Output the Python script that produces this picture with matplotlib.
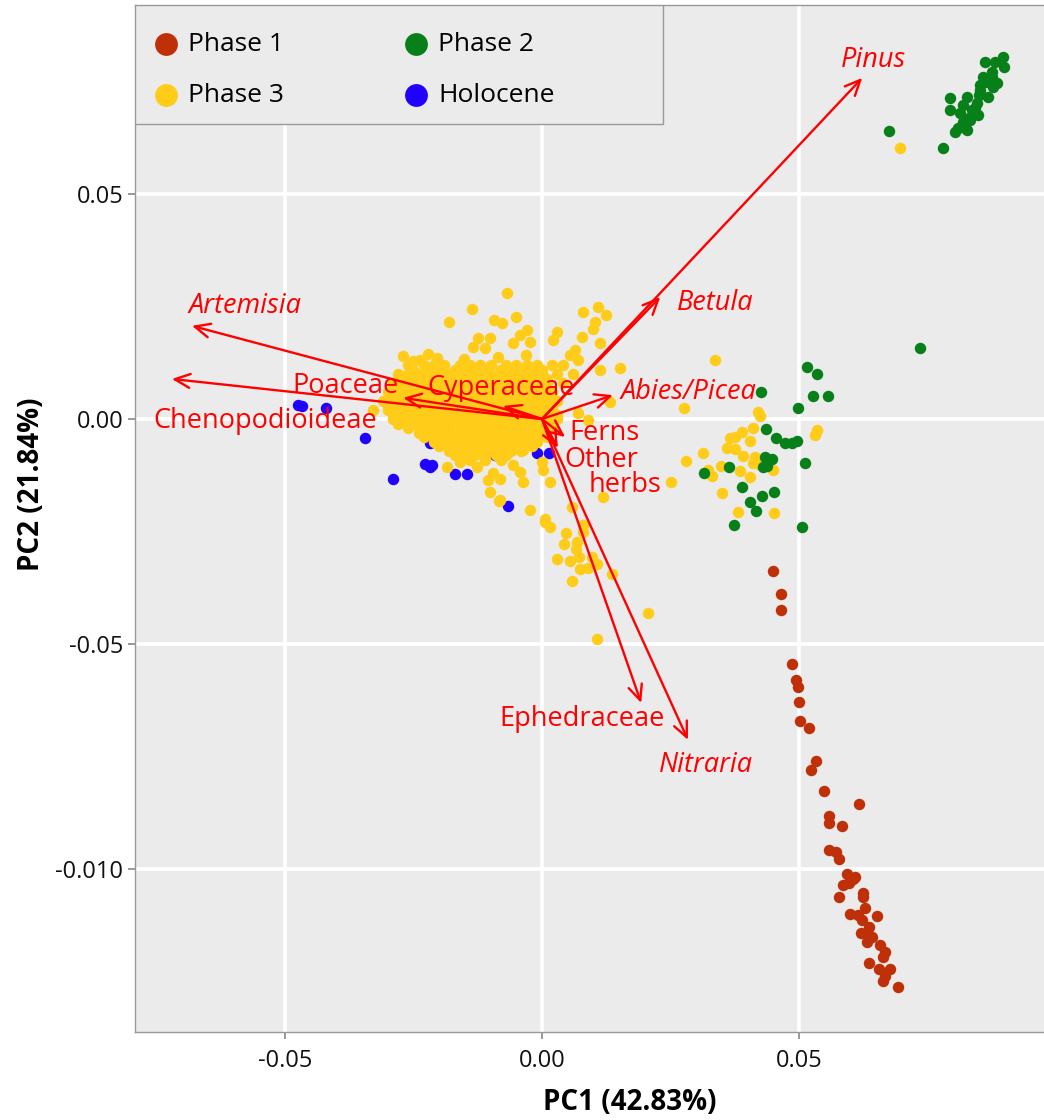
import numpy as np
import matplotlib.pyplot as plt
from matplotlib.patches import Rectangle

plt.rcParams['font.family'] = ['Open Sans', 'DejaVu Sans']

# scores, in thousandths of PC units (x, y)
phase1_pts = [(44.9, -33.8), (46.5, -38.9), (46.5, -42.4), (48.6, -54.4), (49.4, -58.0),
              (49.8, -59.6), (50.0, -62.9), (50.2, -67.1), (51.9, -68.7), (53.3, -76.0),
              (52.3, -78.0), (54.9, -82.7), (61.7, -85.6), (55.8, -88.2), (55.8, -89.8),
              (58.4, -90.4), (55.8, -95.8), (57.2, -96.2), (57.8, -97.8), (59.3, -101.1),
              (60.5, -102.2), (58.6, -103.6), (59.7, -103.1), (60.9, -101.8), (57.8, -106.2),
              (62.5, -105.3), (62.5, -106.2), (62.8, -108.7), (59.9, -110.0), (61.5, -110.2),
              (65.2, -110.4), (62.3, -111.3), (63.6, -112.9), (63.2, -114.2), (62.1, -114.2),
              (64.2, -115.1), (63.2, -116.2), (65.8, -116.9), (66.7, -118.4), (66.3, -119.6),
              (63.6, -120.9), (65.6, -122.2), (67.7, -122.2), (66.7, -123.8), (66.3, -124.9),
              (69.3, -126.2)]

phase2_pts = [(67.5, 64.0), (78.0, 60.2), (79.4, 71.3), (79.4, 68.7), (89.7, 80.4),
              (89.9, 78.2), (88.1, 79.3), (86.2, 79.3), (87.5, 76.0), (88.5, 74.7),
              (85.8, 76.0), (86.8, 71.6), (85.2, 73.1), (84.6, 70.2), (82.7, 71.6),
              (83.7, 68.7), (84.8, 67.6), (81.3, 68.0), (81.9, 66.0), (80.9, 64.7),
              (82.7, 64.2), (80.4, 63.8), (83.3, 66.4), (84.2, 69.1), (85.2, 74.2),
              (87.5, 77.1), (87.7, 73.8), (81.9, 69.8), (83.0, 67.0), (82.0, 65.0),
              (85.0, 72.0), (86.5, 75.0),
              (51.6, 11.6), (53.5, 10.0), (52.7, 5.1), (55.6, 5.1), (42.6, 6.0),
              (49.8, 2.4), (43.6, -2.2), (45.5, -4.2), (47.3, -5.3), (48.6, -5.3),
              (49.6, -4.9), (43.4, -8.4), (44.7, -8.9), (43.8, -10.4), (43.0, -10.7),
              (36.4, -10.7), (31.5, -12.0), (51.2, -9.8), (38.9, -15.1), (45.1, -16.2),
              (42.8, -17.1), (40.5, -18.4), (41.6, -20.4), (37.4, -23.6), (50.6, -24.0),
              (73.5, 15.8)]

holocene_pts = [(-47.5, 3.1), (-46.7, 2.9), (-42.0, 2.4), (-34.4, -4.2), (-29.0, -13.3),
                (-22.8, -10.0), (-21.8, -10.7), (-21.4, -10.2), (-21.8, -5.3), (-16.9, -12.2),
                (-14.6, -12.2), (-9.1, -8.0), (-6.6, -19.3), (-1.0, -7.6), (1.4, -7.6),
                (-6.8, -4.7)]

phase3_pts = [(-6.8, 28.0), (-13.6, 24.4), (-18.1, 21.6), (-9.3, 22.0), (-7.8, 21.3),
              (-5.1, 22.7), (10.9, 24.9), (8.0, 23.8), (12.5, 23.1), (10.3, 21.6),
              (9.9, 20.0), (-2.9, 19.8), (-4.3, 18.7), (2.9, 19.3), (2.1, 17.6),
              (7.8, 18.2), (11.3, 16.9), (-12.5, 18.0), (-10.1, 18.0), (-5.6, 16.9),
              (-2.3, 17.1), (-13.4, 16.0), (-11.1, 15.8), (6.4, 15.3), (5.4, 14.2),
              (7.0, 13.1), (15.2, 11.3), (11.3, 10.9), (-27.0, 14.0), (-22.2, 14.4),
              (-23.7, 13.1), (-32.9, 2.0), (13.2, 3.8), (7.0, 1.3), (8.9, -0.2),
              (-3.7, -6.9), (0.0, -9.6), (0.2, -11.3), (1.6, -14.0), (11.9, -17.3),
              (-10.5, -13.6), (-8.2, -13.3), (-3.7, -14.0), (-10.1, -16.2), (-8.2, -18.0),
              (-2.3, -20.2), (0.6, -22.2), (5.8, -19.6), (-18.5, -10.7), (-16.0, -9.6),
              (-12.6, -10.7), (-5.6, -10.2), (-4.3, -11.8), (-9.5, -12.0), (-8.4, -18.2),
              (1.6, -24.0), (0.6, -22.9), (8.0, -23.6), (8.0, -25.1), (4.7, -25.3),
              (4.3, -27.8), (6.8, -27.3), (6.6, -28.9), (7.2, -30.7), (2.9, -31.1),
              (5.4, -31.6), (7.4, -33.3), (9.7, -30.7), (10.7, -32.2), (8.9, -33.1),
              (13.6, -34.4), (5.8, -36.0), (20.6, -43.1), (10.7, -48.9),
              (33.7, 13.1), (27.6, 2.4), (42.0, 1.6), (42.4, 0.7), (41.0, -2.0),
              (38.9, -2.9), (36.6, -4.2), (37.5, -4.0), (40.5, -4.9), (36.0, -6.4),
              (37.5, -6.7), (31.3, -7.6), (28.0, -9.3), (39.1, -8.2), (41.4, -8.4),
              (41.0, -9.8), (42.4, -10.2), (44.9, -11.3), (34.8, -10.4), (32.3, -11.3),
              (33.1, -12.7), (38.5, -11.6), (40.5, -12.9), (35.0, -16.4), (38.1, -20.7),
              (45.1, -20.9), (25.1, -14.0), (53.5, -2.4), (53.1, -3.6), (69.6, 60.2),
              (-20.5, 13.6), (-15.2, 13.4), (-8.6, 13.7), (-3.2, 14.2), (-25.0, 12.8)]

# dense core of phase 3: (y, list of x)
phase3_rows = [(12, [-26, -23, -21, -19, -16, -14, -12, -10, -7, -5, -3, -1, 2, 4]),
               (11, [-25, -22, -20, -17, -15, -13, -11, -8, -6, -4, -2, 0]),
               (10, [-28, -26, -24, -22, -20, -18, -16, -14, -12, -10, -8, -6, -4, -2, 0, 3, 6]),
               (9, [-27, -25, -23, -21, -19, -17, -15, -13, -11, -9, -7, -5, -3, -1, 1]),
               (8, [-29, -27, -25, -23, -21, -19, -17, -15, -13, -11, -9, -7, -5, -3, -1, 1, 4]),
               (7, [-28, -26, -24, -22, -20, -18, -16, -14, -12, -10, -8, -6, -4, -2, 0]),
               (6, [-30, -28, -26, -24, -22, -20, -18, -16, -14, -12, -10, -8, -6, -4, -2, 0, 2]),
               (5, [-29, -27, -25, -23, -21, -19, -17, -15, -13, -11, -9, -7, -5, -3, -1, 1]),
               (4, [-31, -29, -27, -25, -23, -21, -19, -17, -15, -13, -11, -9, -7, -5, -3, -1, 1, 3]),
               (3, [-30, -28, -26, -24, -22, -20, -18, -16, -14, -12, -10, -8, -6, -4, -2, 0, 2]),
               (2, [-30, -28, -26, -24, -22, -20, -18, -16, -14, -12, -10, -8, -6, -4, -2, 0, 2]),
               (1, [-29, -27, -25, -23, -21, -19, -17, -15, -13, -11, -9, -7, -5, -3, -1, 1, 3]),
               (0, [-29, -27, -25, -23, -21, -19, -17, -15, -13, -11, -9, -7, -5, -3, -1, 1, 3]),
               (-1, [-28, -26, -24, -22, -20, -18, -16, -14, -12, -10, -8, -6, -4, -2, 0, 2]),
               (-2, [-26, -24, -22, -20, -18, -16, -14, -12, -10, -8, -6, -4, -2, 0, 2]),
               (-3, [-24, -22, -20, -18, -16, -14, -12, -10, -8, -6, -4, -2, 0]),
               (-4, [-23, -21, -19, -17, -15, -13, -11, -9, -7, -5, -3, -1, 1]),
               (-5, [-21, -19, -17, -15, -13, -11, -9, -7, -5, -3, -1]),
               (-6, [-20, -18, -16, -14, -12, -10, -8, -6, -4, -2]),
               (-7, [-18, -16, -14, -12, -10, -8, -6, -4]),
               (-8, [-17, -15, -13, -11, -9, -7]),
               (-9, [-14, -11, -8])]

# loadings (arrow tips), thousandths
species = ['Pinus', 'Betula', 'Abies/Picea', 'Artemisia', 'Chenopodioideae', 'Poaceae',
           'Cyperaceae', 'Ferns', 'Other herbs', 'Ephedraceae', 'Nitraria']
load_x = [62.3, 23.0, 13.8, -68.1, -72.0, -27.0, -7.6, 4.5, 3.1, 19.3, 28.4]
load_y = [75.8, 27.1, 5.3, 20.7, 8.9, 4.7, 2.9, -4.0, -6.4, -63.1, -71.3]

# label text, position, italic
lab_text = ['Pinus', 'Betula', 'Abies/Picea', 'Artemisia', 'Chenopodioideae', 'Poaceae',
            'Cyperaceae', 'Ferns', 'Other', 'herbs', 'Ephedraceae', 'Nitraria']
lab_x = [64.4, 33.7, 28.4, -57.8, -53.9, -38.3, -8.0, 12.1, 11.5, 16.1, 7.8, 31.9]
lab_y = [79.8, 25.8, 6.0, 25.1, -0.4, 7.3, 6.9, -3.1, -9.0, -14.6, -66.7, -76.9]
lab_italic = [True, True, True, True, False, False, False, False, False, False, False, True]

colors = {'Phase 1': '#BF3008', 'Phase 2': '#08801A', 'Phase 3': '#FFCC1A', 'Holocene': '#2000FF'}

core = [(x, y) for y, xs in phase3_rows for x in xs]
p3 = np.array(core + phase3_pts) / 1000
p1 = np.array(phase1_pts) / 1000
p2 = np.array(phase2_pts) / 1000
ph = np.array(holocene_pts) / 1000

fig = plt.figure(figsize=(10.44, 11.2), dpi=100)
ax = fig.add_axes([135 / 1044, 88 / 1120, 990 / 1044, 1027 / 1120])
ax.set_facecolor('#EBEBEB')

ms = 68
ax.scatter(ph[:, 0], ph[:, 1], s=ms, color=colors['Holocene'], lw=0, zorder=2)
ax.scatter(p3[:, 0], p3[:, 1], s=ms, color=colors['Phase 3'], lw=0, zorder=2)
ax.scatter(p2[:, 0], p2[:, 1], s=ms, color=colors['Phase 2'], lw=0, zorder=2)
ax.scatter(p1[:, 0], p1[:, 1], s=ms, color=colors['Phase 1'], lw=0, zorder=2)

for sx, sy in zip(load_x, load_y):
    ax.annotate('', xy=(sx / 1000, sy / 1000), xytext=(0, 0),
                arrowprops=dict(arrowstyle='->,head_length=1.1,head_width=0.5',
                                color='#FF0000', lw=1.7, shrinkA=0, shrinkB=0), zorder=3)

for t, lx, ly, it in zip(lab_text, lab_x, lab_y, lab_italic):
    ax.text(lx / 1000, ly / 1000, t, color='#FF0000', fontsize=19.5, ha='center', va='center',
            style='italic' if it else 'normal', zorder=4)

ax.set_xlim(-0.07918, 0.11342)
ax.set_ylim(-0.13622, 0.092)
ax.set_xticks([-0.05, 0.0, 0.05])
ax.set_xticklabels(['-0.05', '0.00', '0.05'])
ax.set_yticks([0.05, 0.0, -0.05, -0.10])
ax.set_yticklabels(['0.05', '0.00', '-0.05', '-0.010'])
ax.tick_params(labelsize=17, colors='#888888', labelcolor='#111111', length=5, width=1.2)
ax.tick_params(axis='x', pad=7)
ax.grid(color='white', lw=2.6)
ax.set_axisbelow(True)
for sp in ax.spines.values():
    sp.set_color('#999999')
    sp.set_linewidth(1)

ax.set_xlabel('PC1 (42.83%)', fontsize=20, fontweight='bold', labelpad=11)
ax.set_ylabel('PC2 (21.84%)', fontsize=20, fontweight='bold')
ax.yaxis.set_label_coords(-0.09, 0.533)

# legend box
ax.add_patch(Rectangle((0, 1 - 119 / 1027), 528 / 990, 119 / 1027, transform=ax.transAxes,
                       facecolor='#EBEBEB', edgecolor='#999999', lw=1, zorder=5))
handles = []
for name in ['Phase 1', 'Phase 3', 'Phase 2', 'Holocene']:
    handles.append(ax.scatter([], [], s=270, color=colors[name], lw=0, label=name))
leg = ax.legend(handles=handles, loc='upper left', ncol=2,
                bbox_to_anchor=((155 - 135) / 990, 1 - 27 / 1027),
                fontsize=19, frameon=False, borderpad=0, labelspacing=1.0,
                handlelength=0.8, handletextpad=0.45, columnspacing=4.6, borderaxespad=0)
leg.set_zorder(6)

plt.savefig('out.png', dpi=100)
